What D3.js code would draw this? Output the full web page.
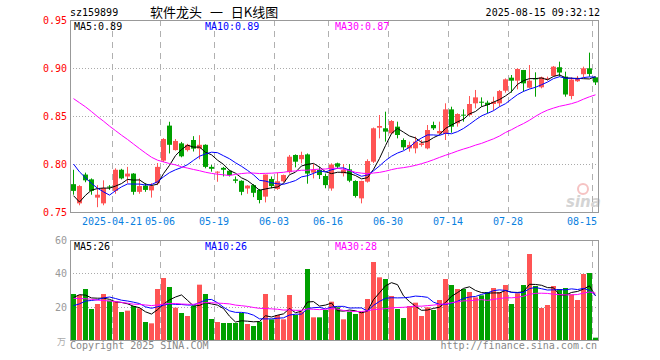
<!DOCTYPE html>
<html><head><meta charset="utf-8">
<script src="https://cdn.jsdelivr.net/npm/d3@7"></script>
<style>body{margin:0;background:#fff}svg{display:block}</style>
</head><body>
<svg id="c" width="660" height="360"></svg>
<script>
// ---------- data ----------
const dates = ["04-10","04-11","04-14","04-15","04-16","04-17","04-18","04-21","04-22","04-23",
"04-24","04-25","04-28","04-29","04-30","05-06","05-07","05-08","05-09","05-12",
"05-13","05-14","05-15","05-16","05-19","05-20","05-21","05-22","05-23","05-26",
"05-27","05-28","05-29","05-30","06-03","06-04","06-05","06-06","06-09","06-10",
"06-11","06-12","06-13","06-16","06-17","06-18","06-19","06-20","06-23","06-24",
"06-25","06-26","06-27","06-30","07-01","07-02","07-03","07-04","07-07","07-08",
"07-09","07-10","07-11","07-14","07-15","07-16","07-17","07-18","07-21","07-22",
"07-23","07-24","07-25","07-28","07-29","07-30","07-31","08-01","08-04","08-05",
"08-06","08-07","08-08","08-11","08-12","08-13","08-14","08-15"];
const opens = [0.779,0.759,0.789,0.784,0.765,0.759,0.7765,0.772,0.794,0.787,
0.790,0.771,0.7775,0.7725,0.780,0.8035,0.840,0.8145,0.8215,0.8145,
0.825,0.816,0.820,0.797,0.791,0.796,0.793,0.784,0.7825,0.7745,
0.778,0.773,0.766,0.7844,0.774,0.782,0.7915,0.8094,0.805,0.810,
0.791,0.7938,0.7875,0.7745,0.8007,0.7903,0.7944,0.7823,0.7642,0.7816,
0.8024,0.8378,0.8372,0.8319,0.8389,0.825,0.8163,0.8163,0.8198,0.8163,
0.8406,0.8319,0.8313,0.8569,0.8424,0.8514,0.851,0.8632,0.8649,0.8639,
0.8625,0.8632,0.8764,0.8899,0.8868,0.8979,0.8795,0.8892,0.8799,0.8882,
0.8917,0.9008,0.891,0.8708,0.8862,0.8935,0.8997,0.8903];
const highs = [0.794,0.778,0.791,0.785,0.778,0.783,0.778,0.7955,0.795,0.797,
0.7905,0.785,0.780,0.780,0.801,0.827,0.844,0.826,0.823,0.821,
0.829,0.830,0.8205,0.799,0.7925,0.797,0.794,0.787,0.783,0.778,
0.779,0.774,0.789,0.787,0.791,0.789,0.8094,0.810,0.8128,0.811,
0.800,0.797,0.790,0.8007,0.8014,0.800,0.800,0.783,0.7826,0.8049,
0.838,0.851,0.8545,0.8458,0.8441,0.8267,0.8233,0.8285,0.825,0.8406,
0.8441,0.8441,0.8632,0.8597,0.8528,0.8569,0.8708,0.8771,0.8694,0.8660,
0.8701,0.8771,0.8892,0.8927,0.8997,0.8980,0.9031,0.8955,0.891,0.891,
0.9021,0.9066,0.8962,0.8903,0.8917,0.9014,0.916,0.8905];
const lows = [0.768,0.757,0.781,0.768,0.755,0.757,0.773,0.769,0.784,0.780,
0.768,0.769,0.771,0.765,0.778,0.802,0.811,0.814,0.807,0.813,
0.813,0.805,0.7955,0.792,0.7815,0.787,0.787,0.780,0.7675,0.769,
0.7655,0.759,0.760,0.7747,0.773,0.781,0.790,0.7965,0.8007,0.7795,
0.785,0.7844,0.7747,0.7722,0.7955,0.787,0.781,0.765,0.759,0.7806,
0.801,0.8267,0.8233,0.8313,0.8267,0.8146,0.8128,0.8111,0.8181,0.8153,
0.8354,0.8313,0.825,0.8326,0.8389,0.8441,0.850,0.858,0.8597,0.8528,
0.8556,0.8597,0.8743,0.8743,0.8778,0.8753,0.8788,0.8701,0.8788,0.887,
0.891,0.891,0.8701,0.8674,0.8855,0.8903,0.891,0.8823];
const closes = [0.772,0.777,0.783,0.772,0.768,0.775,0.776,0.794,0.785,0.790,
0.771,0.777,0.773,0.777,0.797,0.826,0.820,0.824,0.808,0.820,
0.816,0.820,0.797,0.795,0.792,0.794,0.7885,0.7825,0.771,0.7775,
0.770,0.7625,0.789,0.777,0.782,0.7885,0.8076,0.8024,0.8094,0.790,
0.7938,0.7885,0.778,0.7995,0.7972,0.7938,0.7826,0.7667,0.7823,0.8031,
0.8372,0.8396,0.8337,0.8448,0.8302,0.8174,0.8198,0.8233,0.8215,0.8354,
0.8372,0.8344,0.8569,0.8389,0.8521,0.8507,0.8625,0.8694,0.8639,0.8615,
0.8649,0.8760,0.8882,0.8868,0.8990,0.8840,0.8868,0.8882,0.8903,0.8892,
0.9014,0.8953,0.8724,0.8880,0.8890,0.8997,0.8938,0.8850];
const volumes = [27.6,27,30.6,18.6,21.6,27.6,23.6,23,16.8,17.6,
20.4,19,10.8,10,30.6,37.2,31.8,19.4,16.2,14.4,
20.4,33.2,27.6,12.6,10.8,10.2,10.2,10.2,16.2,9.6,
8.4,11,27.6,12.4,15,12.4,27,15,17,42.6,
13.6,13.6,18,23,19.6,12.4,17,15.6,17,24.6,
46.8,37.6,36.6,26.4,18.6,13.2,20.4,22.4,14.4,19.6,
18,24,36.6,33,30.6,30.6,28.8,25.6,26.8,28.8,
31.2,28.8,33,21.6,28,33,51.6,32.4,19.2,21,
32.4,30.6,31.2,27.4,24,39.6,40.2,1.4];
// sessions before the visible window (needed for the moving averages at the left edge)
const priorCloses = [0.905,0.912,0.920,0.925,0.918,0.930,0.935,0.928,0.922,0.915,0.920,0.912,0.908,0.888,
0.880,0.872,0.865,0.868,0.860,0.860,0.859,0.845,0.830,0.818,0.813,0.810,0.748,0.745,0.760];
const priorVolumes = [30,35,28,38,32,36,30,34,31,37.8,24,20,22,18,23,19,21,25,20,20.2,
16,14,15,17,17,18,32,27,22.4];
const priceTicks = [0.95,0.90,0.85,0.80,0.75];
const volumeTicks = [60,40,20];
const tickDates = ["04-21","05-06","05-19","06-03","06-16","06-30","07-14","07-28","08-15"];
const tickLabels = ["2025-04-21","05-06","05-19","06-03","06-16","06-30","07-14","07-28","08-15"];
const maPeriods = [5,10,30];
const maColors = ["#000000","#0000ff","#ff00ff"];

// ---------- chart ----------
const svg = d3.select("#c");
const mono = "'DejaVu Sans Mono', monospace";
const L = 70, R = 598, PT = 20, PB = 212, VT = 240, VB = 340;
const RED = "#ff5454", GREEN = "#00a000";

const x = d3.scaleBand().domain(dates).range([L, R]);
const bw = x.bandwidth();
const yP = d3.scaleLinear().domain([0.75, 0.95]).range([PB, PT]);
const yV = d3.scaleLinear().domain([0, 60]).range([VB, VT]);

function movingAvg(prior, vals, n) {
  const full = prior.concat(vals), off = prior.length;
  return vals.map((_, i) => d3.mean(full.slice(off + i - n + 1, off + i + 1)));
}
const priceMA = maPeriods.map(n => movingAvg(priorCloses, closes, n));
const volMA = maPeriods.map(n => movingAvg(priorVolumes, volumes, n));

// header
svg.append("text").attr("x", 70).attr("y", 16).attr("font-family", mono).attr("font-size", 10).text("sz159899");
svg.append("text").attr("x", 150).attr("y", 17).attr("font-family", "'Noto Sans CJK SC', sans-serif")
  .attr("font-size", 13).attr("word-spacing", 5).attr("xml:space", "preserve").text("软件龙头 一 日K线图");
svg.append("text").attr("x", 600).attr("y", 16).attr("text-anchor", "end").attr("font-family", mono).attr("font-size", 10).text("2025-08-15 09:32:12");

// grids
const gridG = svg.append("g");
gridG.selectAll(".hp").data(priceTicks.slice(1, -1)).join("line")
  .attr("x1", L).attr("x2", R).attr("y1", d => Math.round(yP(d)) + 0.5).attr("y2", d => Math.round(yP(d)) + 0.5)
  .attr("stroke", "#aaa").attr("stroke-dasharray", "1,2");
gridG.selectAll(".hv").data(volumeTicks.slice(1)).join("line")
  .attr("x1", L).attr("x2", R).attr("y1", d => Math.round(yV(d)) + 0.5).attr("y2", d => Math.round(yV(d)) + 0.5)
  .attr("stroke", "#aaa").attr("stroke-dasharray", "1,2");
[[PT, PB], [VT, VB]].forEach(([t, b]) => {
  gridG.selectAll(null).data(tickDates).join("line")
    .attr("x1", d => x(d) + 0.5).attr("x2", d => x(d) + 0.5).attr("y1", t).attr("y2", b)
    .attr("stroke", "#b0b0b0").attr("stroke-dasharray", "6,5");
});

// watermark
const wm = svg.append("g").attr("opacity", 0.5);
wm.append("circle").attr("cx", 583).attr("cy", 189).attr("r", 5).attr("fill", "none").attr("stroke", "#e88").attr("stroke-width", 2);
wm.append("text").attr("x", 566).attr("y", 207).attr("font-family", "'DejaVu Sans', sans-serif").attr("font-style", "italic").attr("font-weight", "bold").attr("font-size", 15).attr("fill", "#aaa").text("sina");

// candles
const idx = d3.range(dates.length);
const cg = svg.append("g");
cg.selectAll("line.w").data(idx).join("line")
  .attr("x1", i => x(dates[i]) + 3.5).attr("x2", i => x(dates[i]) + 3.5)
  .attr("y1", i => yP(highs[i])).attr("y2", i => yP(lows[i]))
  .attr("stroke", i => closes[i] >= opens[i] ? RED : GREEN);
cg.selectAll("rect.b").data(idx).join("rect")
  .attr("x", i => x(dates[i]) + 1).attr("width", bw - 1)
  .attr("y", i => yP(Math.max(opens[i], closes[i])))
  .attr("height", i => Math.max(1, Math.abs(yP(opens[i]) - yP(closes[i]))))
  .attr("fill", i => closes[i] >= opens[i] ? RED : GREEN);

// volume bars
svg.append("g").selectAll("rect").data(idx).join("rect")
  .attr("x", i => x(dates[i]) + 1).attr("width", bw - 1)
  .attr("y", i => yV(volumes[i])).attr("height", i => yV(0) - yV(volumes[i]))
  .attr("fill", i => closes[i] >= opens[i] ? RED : GREEN);

// MA lines
const lineP = d3.line().x((d, i) => x(dates[i]) + 3.5).y(d => yP(d));
const lineV = d3.line().x((d, i) => x(dates[i]) + 3.5).y(d => yV(d));
priceMA.forEach((m, k) => svg.append("path").attr("d", lineP(m)).attr("fill", "none").attr("stroke", maColors[k]).attr("stroke-width", 1));
volMA.forEach((m, k) => svg.append("path").attr("d", lineV(m)).attr("fill", "none").attr("stroke", maColors[k]).attr("stroke-width", 1));

// borders
[[PT, PB], [VT, VB]].forEach(([t, b]) => {
  svg.append("rect").attr("x", L + 0.5).attr("y", t + 0.5).attr("width", R - L).attr("height", b - t)
    .attr("fill", "none").attr("stroke", "#999");
});

// legends
const legX = [74, 205, 335];
maPeriods.forEach((n, k) => {
  const lastP = priceMA[k][priceMA[k].length - 1];
  const lastV = volMA[k][volMA[k].length - 1];
  svg.append("text").attr("x", legX[k]).attr("y", 30).attr("font-family", mono).attr("font-size", 10)
    .attr("fill", maColors[k]).text("MA" + n + ":" + lastP.toFixed(2));
  svg.append("text").attr("x", legX[k]).attr("y", 250).attr("font-family", mono).attr("font-size", 10)
    .attr("fill", maColors[k]).text("MA" + n + ":" + Math.floor(lastV));
});

// price axis labels
svg.selectAll("text.pl").data(priceTicks).join("text")
  .attr("x", 67).attr("y", d => yP(d) + 4).attr("text-anchor", "end")
  .attr("font-family", mono).attr("font-size", 10).attr("fill", "#ff0000")
  .text(d => d3.format(".2f")(d));
// volume axis labels
svg.selectAll("text.vl").data(volumeTicks).join("text")
  .attr("x", 67).attr("y", d => yV(d) + 4).attr("text-anchor", "end")
  .attr("font-family", mono).attr("font-size", 10).attr("fill", "#999")
  .text(d => d);
svg.append("text").attr("x", 66).attr("y", 345).attr("text-anchor", "end")
  .attr("font-family", "'Noto Sans CJK SC', sans-serif").attr("font-size", 9).attr("fill", "#aaa").text("万");

// date labels
svg.selectAll("text.dl").data(tickDates).join("text")
  .attr("x", d => x(d)).attr("y", 225).attr("text-anchor", "middle")
  .attr("font-family", mono).attr("font-size", 10).attr("fill", "#0a80e0")
  .text((d, i) => tickLabels[i])
  .each(function () {
    const w = this.getComputedTextLength();
    const cx = +this.getAttribute("x");
    if (cx + w / 2 > R - 1) this.setAttribute("x", R - 1 - w / 2);
  });

// footer
svg.append("text").attr("x", 70).attr("y", 349).attr("font-family", mono).attr("font-size", 10).attr("fill", "#888").text("Copyright 2025 SINA.COM");
svg.append("text").attr("x", 597).attr("y", 349).attr("text-anchor", "end").attr("font-family", mono).attr("font-size", 10).attr("fill", "#888").text("http://finance.sina.com.cn");
</script>
</body></html>
